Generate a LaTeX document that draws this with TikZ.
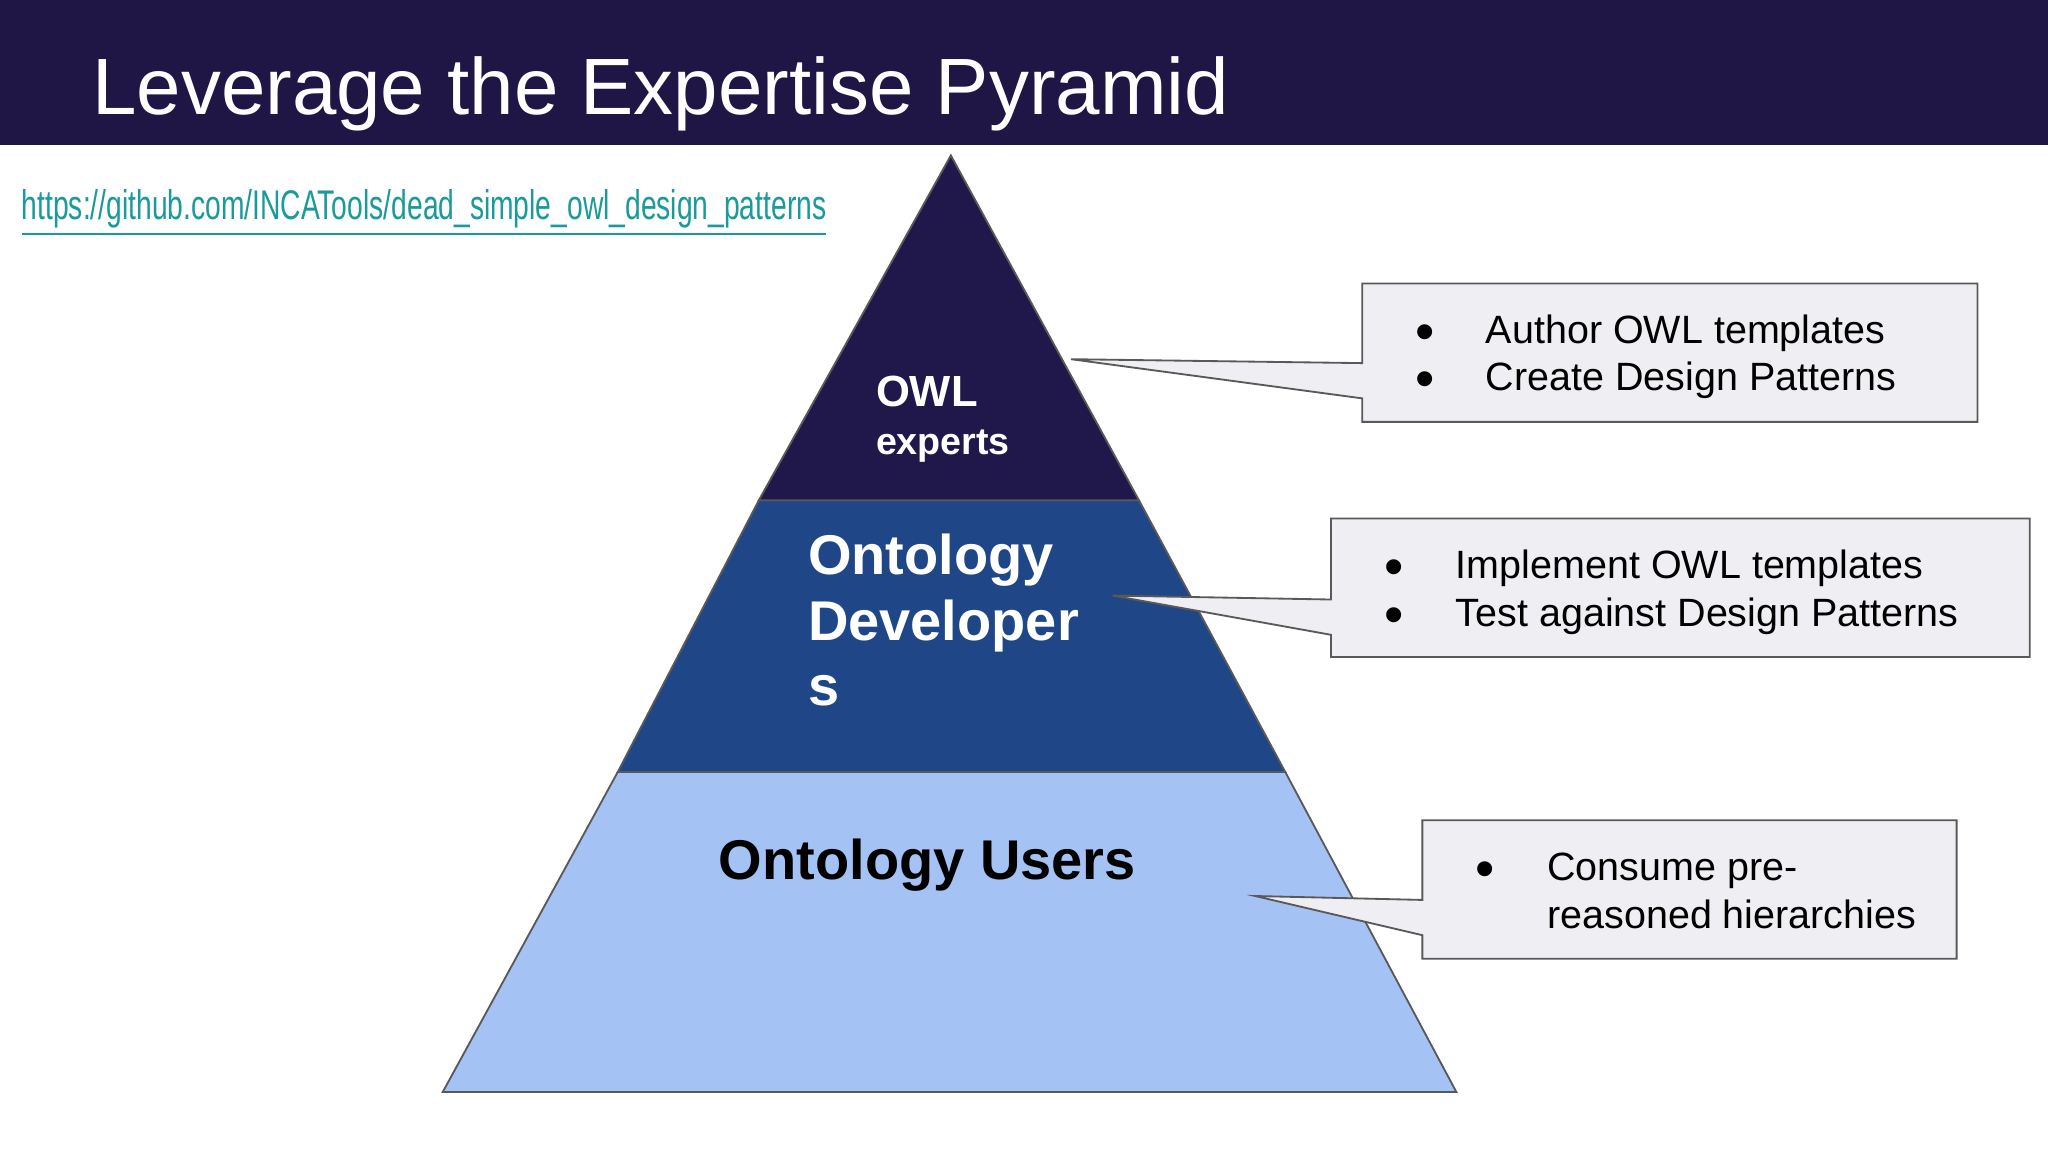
\documentclass[tikz,border=0pt]{standalone}
\usepackage{fontspec}
\setmainfont{Liberation Sans}
\usepackage{graphicx}
\definecolor{navy}{HTML}{1F1646}
\definecolor{tiertop}{HTML}{20174B}
\definecolor{tiermid}{HTML}{1F4788}
\definecolor{tierbot}{HTML}{A4C2F4}
\definecolor{teal}{HTML}{1A9A9A}
\definecolor{boxfill}{HTML}{EFEEF2}
\begin{document}
\begin{tikzpicture}[x=0.1mm,y=-0.1mm,
  tier/.style={draw=black!65,line width=0.4pt},
  callout/.style={draw=black!65,fill=boxfill,line width=0.4pt},
  btxt/.style={font=\fontsize{8.6}{10.5}\selectfont,anchor=base west,inner sep=0},
  bul/.style={font=\fontsize{12}{10.5}\selectfont,anchor=base west,inner sep=0,yshift=-1.5pt},
  ttxt/.style={font=\bfseries\fontsize{12.2}{14}\selectfont,anchor=base west,inner sep=0}]
\useasboundingbox (0,0) rectangle (1568,882);
\fill[white] (0,0) rectangle (1568,882);
\fill[navy] (0,0) rectangle (1568,111);
\node[anchor=base west,inner sep=0,text=white,font=\fontsize{17.4}{20}\selectfont] (title) at (70,88) {Leverage the Expertise Pyramid};
\node[anchor=base west,inner sep=0,text=teal] (link) at (16,168) {\resizebox{61.6mm}{2.3mm}{\underline{https://github.com/INCATools/dead\_simple\_owl\_design\_patterns}}};
% pyramid
\coordinate (apex) at (728,119);
\draw[tier,fill=tierbot] (473,591) -- (984,591) -- (1115,836) -- (339,836) -- cycle;
\draw[tier,fill=tiermid] (581,383) -- (872,383) -- (984,591) -- (473,591) -- cycle;
\draw[tier,fill=tiertop] (apex) -- (872,383) -- (581,383) -- cycle;
\node[anchor=base west,inner sep=0,text=white,font=\bfseries\fontsize{9.5}{11}\selectfont] (owl) at (670,311) {OWL};
\node[anchor=base west,inner sep=0,text=white,font=\bfseries\fontsize{8.2}{10}\selectfont] (exp) at (670,348) {experts};
\node[ttxt,text=white] (od1) at (618,440) {Ontology};
\node[ttxt,text=white] (od2) at (618,490) {Developer};
\node[ttxt,text=white] (od3) at (618,540) {s};
\node[ttxt,text=black,anchor=base] (ou) at (710,673) {Ontology Users};
% callouts
\draw[callout] (1043,217) -- (1514,217) -- (1514,323) -- (1043,323) -- (1043,305) -- (820,275) -- (1043,278) -- cycle;
\draw[callout] (1019,397) -- (1554,397) -- (1554,503) -- (1019,503) -- (1019,486) -- (852,456) -- (1019,459) -- cycle;
\draw[callout] (1089,628) -- (1498,628) -- (1498,734) -- (1089,734) -- (1089,716) -- (961,686) -- (1089,689) -- cycle;
\node[bul] (b1a) at (1083,263) {\textbullet};
\node[btxt] (t1a) at (1137,263) {Author OWL templates};
\node[bul] (b1b) at (1083,299) {\textbullet};
\node[btxt] (t1b) at (1137,299) {Create Design Patterns};
\node[bul] (b2a) at (1059,443) {\textbullet};
\node[btxt] (t2a) at (1114,443) {Implement OWL templates};
\node[bul] (b2b) at (1059,480) {\textbullet};
\node[btxt] (t2b) at (1114,480) {Test against Design Patterns};
\node[bul] (b3a) at (1129,674) {\textbullet};
\node[btxt] (t3a) at (1184,674) {Consume pre-};
\node[btxt] (t3b) at (1184,711) {reasoned hierarchies};
\end{tikzpicture}
\end{document}
